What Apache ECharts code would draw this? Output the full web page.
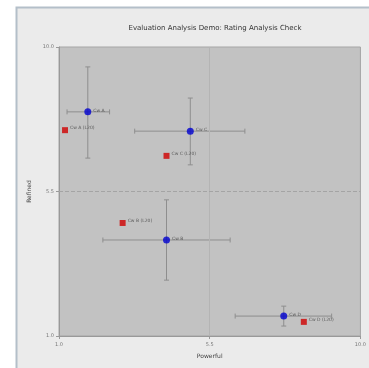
<!DOCTYPE html>
<html>
<head>
<meta charset="utf-8">
<script src="https://cdn.jsdelivr.net/npm/echarts@6/dist/echarts.min.js"></script>
<style>
html, body { margin: 0; padding: 0; background: #fff; }
#chart { width: 369px; height: 368px; }
</style>
</head>
<body>
<div id="chart"></div>
<script>
// values
const tickValues = [1.0, 5.5, 10.0]
const meanNames = ['Cw A', 'Cw C', 'Cw B', 'Cw D']
const meanX = [1.86, 4.92, 4.21, 7.71]
const meanY = [7.98, 7.38, 3.99, 1.62]
const xLow = [1.24, 3.26, 2.31, 6.26]
const xHigh = [2.51, 6.55, 6.11, 9.14]
const yLow = [6.54, 6.33, 2.74, 1.31]
const yHigh = [9.38, 8.41, 5.24, 1.93]
const refNames = ['Cw A (L20)', 'Cw C (L20)', 'Cw B (L20)', 'Cw D (L20)']
const refX = [1.18, 4.21, 2.90, 8.31]
const refY = [7.41, 6.61, 4.52, 1.44]

const chart = echarts.init(document.getElementById('chart'))

const errData = meanX.map((x, i) => [x, meanY[i], xLow[i], xHigh[i], yLow[i], yHigh[i]])
const cap = 2.5

const axisCommon = {
	type: 'value',
	min: 1,
	max: 10,
	axisLine: { show: true, lineStyle: { color: '#999', width: 1 } },
	axisTick: { show: true, length: 3, customValues: tickValues, lineStyle: { color: '#999' } },
	axisLabel: { customValues: tickValues, fontSize: 5, color: '#777', formatter: v => v.toFixed(1) },
	splitLine: { show: false },
	nameLocation: 'middle',
	nameTextStyle: { fontSize: 6, color: '#444', fontFamily: 'DejaVu Sans' }
}

chart.setOption({
	animation: false,
	textStyle: { fontFamily: 'DejaVu Sans' },
	graphic: [{
		type: 'rect',
		shape: { x: 16.5, y: 7.5, width: 360, height: 370 },
		style: { fill: '#ebebeb', stroke: '#b4bfc9', lineWidth: 2 },
		z: -10
	}],
	title: {
		text: 'Evaluation Analysis Demo: Rating Analysis Check',
		left: 210, top: 20, textAlign: 'center',
		textStyle: { fontSize: 7, fontWeight: 'normal', color: '#333' }
	},
	grid: { left: 59, right: 7, top: 47, bottom: 32, show: true, backgroundColor: '#c2c2c2', borderColor: '#a5a5a5', borderWidth: 1 },
	xAxis: Object.assign({}, axisCommon, { name: 'Powerful', nameGap: 17, axisLabel: Object.assign({}, axisCommon.axisLabel, { margin: 6 }) }),
	yAxis: Object.assign({}, axisCommon, { name: 'Refined', nameGap: 22, axisLabel: Object.assign({}, axisCommon.axisLabel, { margin: 5 }) }),
	series: [
		{
			type: 'custom',
			data: errData,
			z: 1,
			renderItem: (params, api) => {
				const c = api.coord([api.value(0), api.value(1)])
				const l = api.coord([api.value(2), api.value(1)])
				const r = api.coord([api.value(3), api.value(1)])
				const b = api.coord([api.value(0), api.value(4)])
				const t = api.coord([api.value(0), api.value(5)])
				const st = { stroke: '#8e8e8e', lineWidth: 1 }
				const line = (x1, y1, x2, y2) => ({ type: 'line', shape: { x1, y1, x2, y2 }, style: st })
				return {
					type: 'group',
					children: [
						line(l[0], c[1], r[0], c[1]),
						line(l[0], c[1] - cap, l[0], c[1] + cap),
						line(r[0], c[1] - cap, r[0], c[1] + cap),
						line(c[0], t[1], c[0], b[1]),
						line(c[0] - cap, t[1], c[0] + cap, t[1]),
						line(c[0] - cap, b[1], c[0] + cap, b[1])
					]
				}
			}
		},
		{
			type: 'scatter',
			data: refX.map((x, i) => ({ value: [x, refY[i]], name: refNames[i] })),
			symbol: 'rect',
			symbolSize: 6,
			itemStyle: { color: '#d00000' },
			z: 3,
			label: { show: true, position: 'right', distance: 2, offset: [0, -2], fontSize: 4.5, color: '#444', formatter: p => p.name }
		},
		{
			type: 'scatter',
			data: meanX.map((x, i) => ({ value: [x, meanY[i]], name: meanNames[i] })),
			symbol: 'circle',
			symbolSize: 7,
			itemStyle: { color: '#0000d0' },
			z: 4,
			label: { show: true, position: 'right', distance: 2, offset: [0, -1], fontSize: 4.5, color: '#444', formatter: p => p.name },
			markLine: {
				silent: true,
				symbol: 'none',
				label: { show: false },
				data: [
					{ xAxis: 5.5, lineStyle: { type: 'solid', color: '#b4b4b4', width: 1 } },
					{ yAxis: 5.5, lineStyle: { type: 'dashed', color: '#a4a4a4', width: 1 } }
				]
			}
		}
	]
})
</script>
</body>
</html>
